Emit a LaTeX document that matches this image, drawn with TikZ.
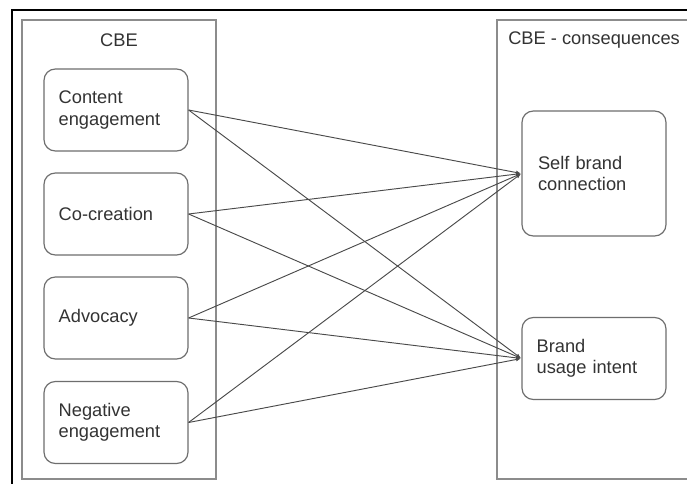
\documentclass[tikz,border=0pt]{standalone}
\usepackage{fontspec}
\setmainfont{Liberation Sans}
\usetikzlibrary{arrows.meta}
\definecolor{boxgray}{HTML}{8C8C8C}
\definecolor{nodegray}{HTML}{6E6E6E}
\definecolor{linkgray}{HTML}{4A4A4A}
\definecolor{txt}{HTML}{333333}
\tikzset{
  group/.style={draw=boxgray, line width=1.1pt},
  factor/.style={draw=nodegray, line width=0.9pt, rounded corners=8.5pt,
    minimum width=108pt, minimum height=61.5pt, text width=86pt,
    inner xsep=11pt, align=left, text=txt,
    font=\fontsize{13.7}{15.8}\selectfont},
  title/.style={text=txt, font=\fontsize{13.7}{15.8}\selectfont, inner sep=0pt},
  link/.style={draw=linkgray, line width=0.7pt,
    -{Latex[length=3.5pt,width=3pt]}, shorten >=0.5pt},
}
\begin{document}
\begin{tikzpicture}[x=0.75pt, y=-0.75pt]
\useasboundingbox (0,0) rectangle (687,484);
\clip (0,0) rectangle (687,484);
\fill[white] (0,0) rectangle (687,484);
% outer frame
\draw[black, line width=1.6pt] (12,10) rectangle (720,520);
% groups
\draw[group] (22,20) rectangle (216,479);
\draw[group] (497,20) rectangle (720,479);
\node[title] (cbe) at (119,40) {CBE};
\node[title, anchor=west] (cons) at (508,40) {CBE - consequences};
% drivers
\node[factor] (ce) at (116,110) {Content\\engagement};
\node[factor] (cc) at (116,214) {Co-creation};
\node[factor] (ad) at (116,318) {Advocacy};
\node[factor] (ne) at (116,422.5) {Negative\\engagement};
% consequences
\node[factor, minimum height=93.75pt, inner xsep=12pt, text width=84pt] (sbc) at (594,173.5) {Self brand\\connection};
\node[factor] (bui) at (594,358.5) {Brand\\usage intent};
% links
\foreach \s in {ce,cc,ad,ne}{
  \draw[link] (\s.east) -- (sbc.west);
  \draw[link] (\s.east) -- (bui.west);
}
\end{tikzpicture}
\end{document}
